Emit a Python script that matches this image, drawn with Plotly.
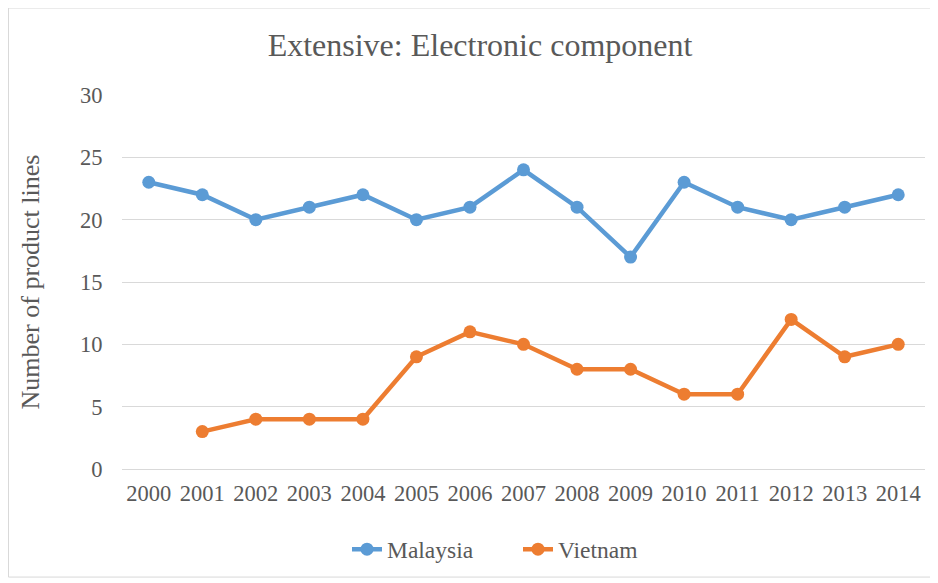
import plotly.graph_objects as go

years = [str(y) for y in range(2000, 2015)]
malaysia = [23, 22, 20, 21, 22, 20, 21, 24, 21, 17, 23, 21, 20, 21, 22]
vietnam = [None, 3, 4, 4, 4, 9, 11, 10, 8, 8, 6, 6, 12, 9, 10]

fig = go.Figure()
fig.add_trace(go.Scatter(x=years, y=malaysia, name="Malaysia", mode="lines+markers",
                         line=dict(color="#5B9BD5", width=4.5),
                         marker=dict(size=13, color="#5B9BD5")))
fig.add_trace(go.Scatter(x=years, y=vietnam, name="Vietnam", mode="lines+markers",
                         line=dict(color="#ED7D31", width=4.5),
                         marker=dict(size=13, color="#ED7D31")))

font_family = "Liberation Serif, Times New Roman, serif"
W, H = 930, 575
fig.update_layout(
    width=W, height=H,
    paper_bgcolor="white", plot_bgcolor="white",
    margin=dict(l=114, r=13, t=87, b=108),
    title=dict(text="Extensive: Electronic component", x=(480 - 122) / 803, xanchor="center",
               xref="paper",
               y=1 - 37 / H, yanchor="middle",
               font=dict(family=font_family, size=32, color="#595959")),
    font=dict(family=font_family, color="#595959"),
    xaxis=dict(type="category", range=[-0.5, 14.5], showgrid=False,
               showline=True, linecolor="#D9D9D9", linewidth=1,
               ticks="outside", ticklen=4, tickcolor="white",
               tickfont=dict(size=22.5, color="#595959")),
    yaxis=dict(range=[0, 30], dtick=5, showgrid=True, gridcolor="#D9D9D9",
               gridwidth=1, zeroline=True, zerolinecolor="#D9D9D9",
               ticks="outside", ticklen=14, tickcolor="white",
               tickfont=dict(size=22.5, color="#595959"),
               title=dict(text="Number of product lines",
                          font=dict(size=26, color="#595959"), standoff=32)),
    legend=dict(orientation="h", x=(347 - 122) / 803, xanchor="left", y=-0.215, yanchor="middle",
                entrywidth=126, entrywidthmode="pixels",
                font=dict(size=23.5, color="#595959")),
    showlegend=True,
)
fig.add_shape(type="rect", xref="paper", yref="paper",
              x0=-114 / 803 + 0.5 / 803, x1=1 + 12.5 / 803,
              y0=-107.5 / 372, y1=1 + 86.5 / 372,
              line=dict(color="#D9D9D9", width=1))
fig.write_html("out.html")
